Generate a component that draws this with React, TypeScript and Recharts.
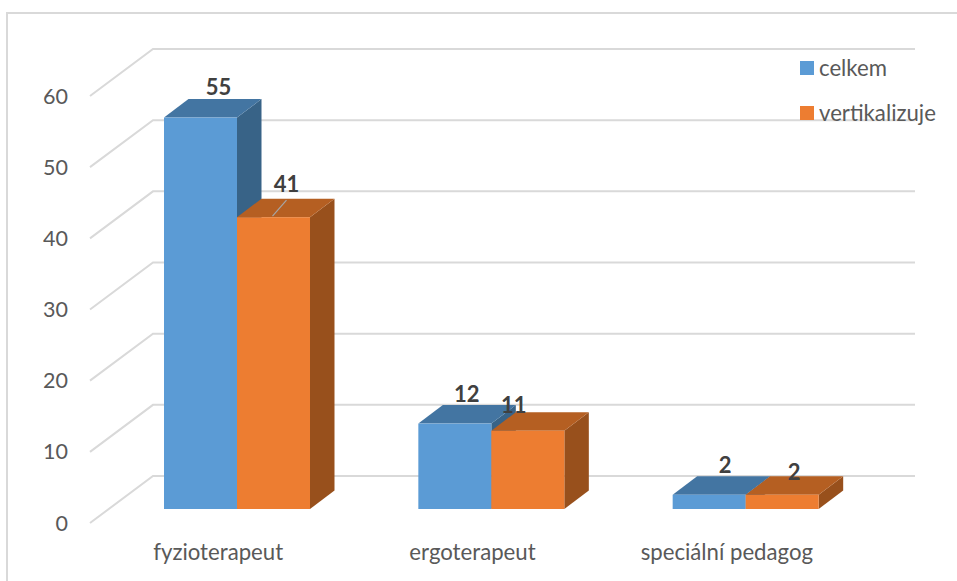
import React from 'react';
import { BarChart, Bar, XAxis, YAxis, CartesianGrid, Legend, LabelList } from 'recharts';

const professions = ['fyzioterapeut', 'ergoterapeut', 'speciální pedagog'];
const celkem = [55, 12, 2];
const vertikalizuje = [41, 11, 2];
const yTicks = [0, 10, 20, 30, 40, 50, 60];

const rows = professions.map((name, i) => ({ name, celkem: celkem[i], vertikalizuje: vertikalizuje[i] }));

const FONT = 'Lato, Carlito, sans-serif';
const TEXT = '#595959';
const GRID = '#D9D9D9';

// oblique offset of the bar depth
const DEPTH_X = 24.5;
const DEPTH_Y = 18.5;

// the floor plane runs from the front tick row to the back wall
const FLOOR_FRONT = { dx: -20, dy: 14 };
const FLOOR_BACK = { dx: 43, dy: -33 };

const Block = (top: string, side: string) => (props: any) => {
  const { x, y, width, height, fill } = props;
  const r = x + width;
  const b = y + height;
  return (
    <g>
      <polygon points={`${r},${y} ${r + DEPTH_X},${y - DEPTH_Y} ${r + DEPTH_X},${b - DEPTH_Y} ${r},${b}`} fill={side} />
      <polygon points={`${x},${y} ${x + DEPTH_X},${y - DEPTH_Y} ${r + DEPTH_X},${y - DEPTH_Y} ${r},${y}`} fill={top} />
      <rect x={x} y={y} width={width} height={height} fill={fill} />
    </g>
  );
};

const WallLine = (props: any) => {
  const { x1, x2, y1 } = props;
  const pts = [
    [x1 + FLOOR_FRONT.dx, y1 + FLOOR_FRONT.dy],
    [x1 + FLOOR_BACK.dx, y1 + FLOOR_BACK.dy],
    [x2 + 42, y1 + FLOOR_BACK.dy],
  ];
  return <polyline points={pts.map(p => p.join(',')).join(' ')} fill="none" stroke={GRID} strokeWidth={2} />;
};

const YTick = ({ y, payload }: any) => (
  <text x={68} y={y + 14} dy="0.35em" textAnchor="end" fontFamily={FONT} fontSize={21.5} fill={TEXT}>
    {payload.value}
  </text>
);

const XTick = ({ x, y, payload }: any) => (
  <text x={x - 19} y={y + 43} textAnchor="middle" fontFamily={FONT} fontSize={22.2} fill={TEXT}>
    {payload.value}
  </text>
);

// value labels sit above the block top, nudged per bar to stay clear of each other
const ValueLabel = (nudge: number[][], leader?: number) => (props: any) => {
  const { x, y, width, value, index } = props;
  const cx = x + width / 2 + nudge[index][0];
  const base = y + nudge[index][1];
  return (
    <g>
      {leader === index && (
        <line x1={x + width / 2 - 1} y1={y - 1} x2={x + width / 2 + 13} y2={y - 17} stroke="#A6A6A6" strokeWidth={1.2} />
      )}
      <text x={cx} y={base} textAnchor="middle" fontFamily={FONT} fontSize={22} fontWeight={700} fill="#404040">
        {value}
      </text>
    </g>
  );
};

const KeyList = ({ payload }: any) => (
  <div style={{ fontFamily: FONT, fontSize: 22.2, color: TEXT }}>
    {(payload ?? []).map((p: any) => (
      <div key={p.value} style={{ display: 'flex', alignItems: 'center', height: 45, whiteSpace: 'nowrap' }}>
        <span style={{ width: 14, height: 14, background: p.color, marginRight: 5 }} />
        {p.value}
      </div>
    ))}
  </div>
);

export default function App() {
  return (
    <div style={{ position: 'absolute', left: 0, top: 0, width: 957, height: 581, background: '#fff', overflow: 'hidden' }}>
      <div style={{ position: 'absolute', left: 6, top: 12, width: 951, height: 569, boxSizing: 'border-box', borderLeft: `2px solid ${GRID}`, borderTop: `2px solid ${GRID}` }} />
      <div style={{ position: 'absolute', left: 0, top: 0 }}>
        <BarChart
          width={957}
          height={581}
          data={rows}
          margin={{ top: 82, right: 84, bottom: 0, left: 40 }}
          barGap={0}
          barSize={73}
        >
          <CartesianGrid vertical={false} horizontal={(p: any) => <WallLine key={p.key ?? p.y1} {...p} />} />
          <XAxis dataKey="name" axisLine={false} tickLine={false} height={72} interval={0} tick={<XTick />} />
          <YAxis domain={[0, 60]} ticks={yTicks} width={70} axisLine={false} tickLine={false} tick={<YTick />} />
          <Legend
            layout="horizontal"
            align="center"
            verticalAlign="middle"
            content={<KeyList />}
            wrapperStyle={{ position: 'absolute', left: 800, top: 45, width: 150 }}
          />
          <Bar dataKey="celkem" name="celkem" fill="#5B9BD5" isAnimationActive={false} shape={Block('#4375A2', '#386387')}>
            <LabelList dataKey="celkem" content={ValueLabel([[18, -23], [12, -22], [16, -22]])} />
          </Bar>
          <Bar dataKey="vertikalizuje" name="vertikalizuje" fill="#ED7D31" isAnimationActive={false} shape={Block('#B55F22', '#98501C')}>
            <LabelList dataKey="vertikalizuje" content={ValueLabel([[13, -25], [-14, -18], [12, -15]], 0)} />
          </Bar>
        </BarChart>
      </div>
    </div>
  );
}
